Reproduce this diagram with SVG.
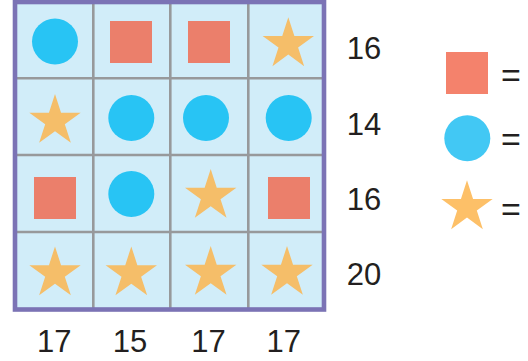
<svg xmlns="http://www.w3.org/2000/svg" width="528" height="361" viewBox="0 0 528 361">
<style>
.cell{fill:#d1edf9}
.grid{stroke:#97999b;stroke-width:2.6;fill:none}
.border{stroke:#7b73b5;stroke-width:4.6;fill:none}
.c{fill:#28c4f4}
.s{fill:#eb7f6b}
.st{fill:#f5be69}
.num{font-family:"Liberation Sans",Arial,sans-serif;font-size:31px;fill:#231f20;text-anchor:middle}
.eq{font-family:"Liberation Sans",Arial,sans-serif;font-size:34px;fill:#231f20;text-anchor:middle}
</style>
<defs>
<path id="star" d="M0,-27 L6.06,-8.34 L25.68,-8.34 L9.81,3.19 L15.87,21.84 L0,10.31 L-15.87,21.84 L-9.81,3.19 L-25.68,-8.34 L-6.06,-8.34 Z"/>
</defs>
<rect class="cell" x="15" y="2" width="309" height="307.5"/>
<g id="connectors" class="grid">
<line x1="93.3" y1="2" x2="93.3" y2="309.5"/>
<line x1="170.3" y1="2" x2="170.3" y2="309.5"/>
<line x1="248.3" y1="2" x2="248.3" y2="309.5"/>
<line x1="15" y1="78.3" x2="324" y2="78.3"/>
<line x1="15" y1="155" x2="324" y2="155"/>
<line x1="15" y1="232" x2="324" y2="232"/>
</g>
<rect class="border" x="15" y="2" width="309" height="307.5"/>
<g id="r0c0"><circle class="c" cx="55" cy="41.5" r="23"/></g>
<g id="r0c1"><rect class="s" x="110" y="21" width="42" height="42"/></g>
<g id="r0c2"><rect class="s" x="188" y="21" width="42" height="42"/></g>
<g id="r0c3"><use href="#star" class="st" x="288.3" y="44.3"/></g>
<g id="r1c0"><use href="#star" class="st" x="55" y="121"/></g>
<g id="r1c1"><circle class="c" cx="131.3" cy="118" r="23"/></g>
<g id="r1c2"><circle class="c" cx="206" cy="118" r="23"/></g>
<g id="r1c3"><circle class="c" cx="288.7" cy="118" r="23"/></g>
<g id="r2c0"><rect class="s" x="34" y="177" width="42" height="42"/></g>
<g id="r2c1"><circle class="c" cx="131.3" cy="194" r="23"/></g>
<g id="r2c2"><use href="#star" class="st" x="210.7" y="196"/></g>
<g id="r2c3"><rect class="s" x="268" y="177" width="42" height="42"/></g>
<g id="r3c0"><use href="#star" class="st" x="55" y="273.5"/></g>
<g id="r3c1"><use href="#star" class="st" x="131.3" y="273.5"/></g>
<g id="r3c2"><use href="#star" class="st" x="210.7" y="273"/></g>
<g id="r3c3"><use href="#star" class="st" x="287" y="273"/></g>
<g id="row-sums">
<text class="num" x="364" y="59.3">16</text>
<text class="num" x="364" y="135">14</text>
<text class="num" x="364" y="210">16</text>
<text class="num" x="364" y="285">20</text>
</g>
<g id="col-sums">
<text class="num" x="54.2" y="351.7">17</text>
<text class="num" x="130" y="351.7">15</text>
<text class="num" x="208.5" y="351.7">17</text>
<text class="num" x="283.8" y="351.7">17</text>
</g>
<g id="legend-square"><rect x="446" y="52" width="42" height="42" fill="#f4826c"/><text class="eq" x="511" y="86.5">=</text></g>
<g id="legend-circle"><circle cx="467.3" cy="138.2" r="23" fill="#42c8f4"/><text class="eq" x="511" y="150.5">=</text></g>
<g id="legend-star"><use href="#star" fill="#fdc068" x="467" y="207.3"/><text class="eq" x="511" y="220.8">=</text></g>
</svg>
